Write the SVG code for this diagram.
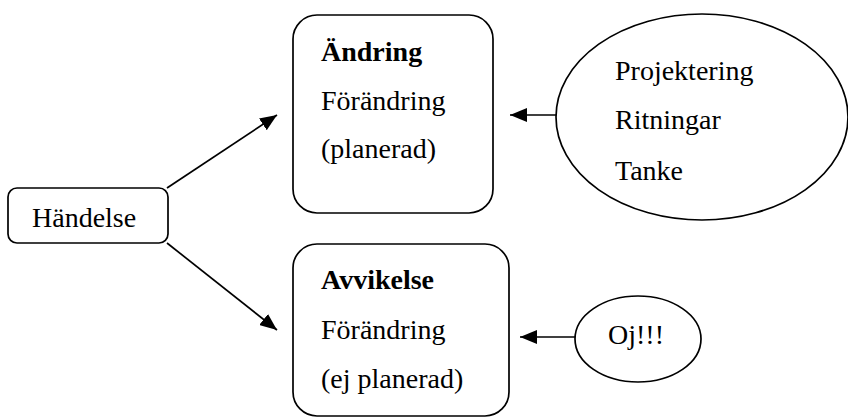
<svg xmlns="http://www.w3.org/2000/svg" width="848" height="418" viewBox="0 0 848 418">
<style>
.s{fill:#fff;stroke:#000;stroke-width:1.7}
.c{stroke:#000;stroke-width:1.7;fill:none}
text{font-family:"Liberation Serif","Times New Roman",serif;font-size:28px;fill:#000}
.b{font-weight:bold}
</style>
<defs>
<marker id="ah" markerUnits="userSpaceOnUse" markerWidth="18" markerHeight="14" refX="17" refY="7" orient="auto">
<path d="M0,0 L17,7 L0,14 Z" fill="#000"/>
</marker>
</defs>
<rect width="848" height="418" fill="#fff"/>
<g id="connectors">
<line class="c" x1="167" y1="188" x2="277" y2="115" marker-end="url(#ah)"/>
<line class="c" x1="167" y1="243" x2="277" y2="330" marker-end="url(#ah)"/>
<line class="c" x1="556" y1="115" x2="510" y2="115" marker-end="url(#ah)"/>
<line class="c" x1="575" y1="337" x2="520" y2="337" marker-end="url(#ah)"/>
</g>
<g id="handelse">
<rect class="s" x="8" y="188" width="160" height="55" rx="9"/>
<text x="32" y="227">Händelse</text>
</g>
<g id="andring">
<rect class="s" x="293" y="15" width="200" height="198" rx="24"/>
<text class="b" x="321" y="61">Ändring</text>
<text x="321" y="110">Förändring</text>
<text x="321" y="158">(planerad)</text>
</g>
<g id="avvikelse">
<rect class="s" x="293" y="244" width="216" height="172" rx="24"/>
<text class="b" x="321" y="289">Avvikelse</text>
<text x="321" y="339">Förändring</text>
<text x="321" y="388">(ej planerad)</text>
</g>
<g id="projektering">
<ellipse class="s" cx="702" cy="117" rx="146" ry="103"/>
<text x="615" y="80">Projektering</text>
<text x="615" y="129">Ritningar</text>
<text x="615" y="180">Tanke</text>
</g>
<g id="oj">
<ellipse class="s" cx="638" cy="339" rx="63" ry="43"/>
<text x="608" y="344">Oj!!!</text>
</g>
</svg>
